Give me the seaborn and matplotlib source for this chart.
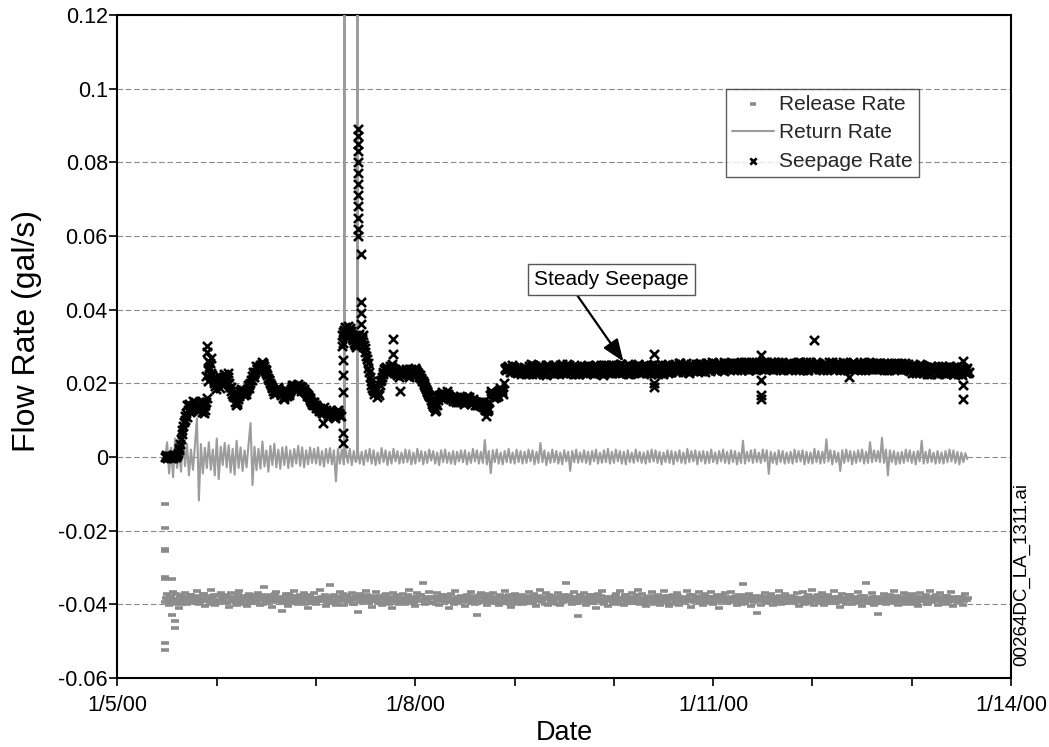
import numpy as np
import pandas as pd
import matplotlib
matplotlib.use('Agg')
import matplotlib.pyplot as plt
import matplotlib.ticker as mticker
import seaborn as sns


# ---------------------------------------------------------------------------
# Data (x axis = days after 1/5/00 00:00)
# ---------------------------------------------------------------------------

date_ticks = [0, 3, 6, 9]
date_labels = ['1/5/00', '1/8/00', '1/11/00', '1/14/00']
y_ticks = [-0.06, -0.04, -0.02, 0.0, 0.02, 0.04, 0.06, 0.08, 0.1, 0.12]
y_labels = ['-0.06', '-0.04', '-0.02', '0', '0.02', '0.04', '0.06', '0.08', '0.1', '0.12']

# seepage rate: four readings per 0.03-day step from day 0.48, in 1e-4 gal/s
# (a at +0, c at +0.0075, b at +0.015, d at +0.0225 day)
seep_start = 0.48
seep_step = 0.03
seepage_a_e4 = [
    0, 3, -2, 2, 5, 35, 85, 120, 145, 128,
    150, 125, 142, 118, 160, 255, 215, 185, 220, 195,
    222, 228, 180, 162, 145, 170, 182, 172, 195, 208,
    218, 238, 244, 256, 228, 208, 186, 178, 190, 168,
    162, 175, 178, 195, 190, 186, 190, 176, 168, 150,
    148, 136, 132, 118, 128, 112, 122, 106, 128, 110,
    345, 325, 350, 318, 298, 335, 322, 296, 255, 205,
    178, 162, 195, 225, 245, 232, 252, 238, 222, 234,
    222, 238, 218, 232, 242, 228, 212, 196, 176, 162,
    138, 128, 168, 176, 162, 172, 158, 154, 162, 148,
    158, 148, 162, 152, 142, 150, 138, 136, 124, 168,
    172, 162, 178, 182, 242, 248, 232, 244, 228, 238,
    236, 225, 247, 232, 241, 228, 250, 234, 222, 244,
    238, 249, 227, 240, 233, 252, 229, 245, 236, 224,
    243, 230, 251, 235, 226, 246, 238, 222, 249, 233,
    228, 245, 236, 253, 231, 240, 224, 248, 237, 229,
    247, 233, 241, 226, 252, 238, 230, 244, 235, 249,
    231, 246, 239, 255, 234, 242, 228, 250, 237, 245,
    252, 238, 247, 233, 256, 241, 249, 236, 253, 240,
    244, 255, 237, 250, 242, 258, 235, 248, 253, 239,
    251, 240, 256, 245, 236, 253, 247, 259, 241, 250,
    238, 254, 246, 257, 242, 250, 237, 255, 244, 252,
    249, 236, 253, 244, 258, 240, 251, 246, 235, 255,
    243, 257, 239, 250, 246, 236, 254, 241, 252, 247,
    255, 242, 249, 237, 253, 245, 240, 256, 238, 248,
    234, 246, 229, 241, 250, 232, 238, 225, 244, 236,
    240, 227, 245, 233, 238, 224, 247, 231, 242, 235,
]
seepage_c_e4 = [
    4, -1, 1, 5, 10, 48, 95, 108, 132, 140,
    138, 135, 152, 128, 205, 268, 205, 198, 205, 210,
    212, 218, 190, 170, 150, 178, 175, 178, 188, 220,
    232, 245, 250, 248, 222, 200, 180, 175, 183, 172,
    168, 180, 185, 188, 195, 192, 182, 174, 164, 145,
    140, 132, 126, 124, 120, 118, 116, 114, 120, 300,
    352, 340, 342, 325, 308, 326, 318, 285, 242, 195,
    170, 185, 205, 232, 238, 240, 245, 232, 230, 228,
    228, 232, 228, 226, 236, 218, 206, 190, 172, 156,
    135, 142, 165, 168, 170, 166, 160, 160, 150, 155,
    152, 156, 155, 148, 150, 145, 142, 130, 128, 172,
    166, 175, 180, 176, 238, 242, 240, 238, 235, 232,
    230, 242, 236, 226, 248, 233, 240, 227, 246, 238,
    247, 228, 241, 253, 230, 242, 236, 250, 229, 240,
    236, 226, 244, 240, 232, 238, 251, 229, 240, 227,
    240, 251, 229, 238, 247, 226, 243, 236, 230, 246,
    238, 244, 234, 250, 228, 246, 239, 226, 241, 230,
    240, 252, 232, 246, 241, 236, 247, 234, 252, 238,
    245, 232, 254, 240, 245, 236, 256, 243, 238, 255,
    250, 246, 242, 257, 238, 252, 244, 240, 258, 244,
    244, 252, 238, 258, 242, 246, 238, 254, 246, 236,
    245, 248, 240, 251, 236, 258, 244, 240, 250, 247,
    244, 250, 236, 251, 246, 238, 256, 241, 246, 236,
    250, 246, 244, 256, 238, 244, 258, 238, 246, 256,
    248, 236, 256, 244, 246, 238, 252, 244, 242, 252,
    240, 250, 236, 233, 246, 238, 230, 248, 237, 226,
    234, 238, 226, 246, 232, 240, 226, 244, 235, 242,
]
seepage_b_e4 = [
    -3, 1, 4, -1, 18, 62, 100, 140, 122, 152,
    135, 150, 122, 140, 235, 228, 200, 212, 188, 218,
    205, 200, 172, 150, 158, 185, 168, 185, 200, 232,
    248, 232, 258, 240, 215, 195, 172, 185, 176, 160,
    172, 168, 190, 182, 198, 180, 184, 170, 160, 140,
    142, 126, 124, 136, 118, 128, 112, 120, 116, 330,
    335, 355, 330, 310, 320, 310, 332, 275, 230, 188,
    190, 175, 210, 238, 228, 248, 240, 228, 218, 240,
    232, 226, 240, 220, 232, 222, 205, 185, 168, 150,
    132, 155, 160, 170, 178, 162, 165, 150, 155, 162,
    145, 165, 150, 158, 148, 140, 146, 128, 132, 178,
    160, 170, 186, 172, 236, 238, 250, 232, 242, 226,
    244, 236, 228, 249, 224, 245, 233, 229, 251, 235,
    226, 233, 250, 228, 247, 236, 244, 231, 226, 248,
    231, 248, 237, 227, 251, 229, 236, 250, 232, 245,
    250, 232, 246, 228, 244, 253, 234, 229, 248, 242,
    230, 251, 228, 245, 237, 226, 253, 232, 248, 236,
    250, 233, 256, 238, 248, 230, 252, 240, 233, 254,
    236, 256, 240, 252, 235, 254, 238, 258, 242, 251,
    256, 239, 254, 236, 259, 241, 252, 246, 237, 257,
    238, 257, 242, 252, 259, 240, 256, 237, 252, 243,
    253, 240, 258, 241, 254, 236, 257, 245, 259, 239,
    238, 256, 242, 255, 239, 254, 236, 258, 251, 240,
    255, 240, 253, 237, 257, 251, 240, 256, 238, 250,
    240, 254, 236, 252, 241, 256, 251, 238, 255, 236,
    247, 231, 243, 252, 228, 245, 224, 243, 230, 248,
    229, 244, 230, 241, 226, 245, 237, 222, 240, 228,
]
seepage_d_e4 = [
    -1, 2, -3, 3, 25, 72, 112, 128, 138, 142,
    128, 144, 130, 150, 245, 222, 192, 200, 205, 225,
    218, 190, 165, 140, 165, 176, 178, 195, 210, 225,
    240, 250, 252, 235, 210, 190, 182, 188, 172, 158,
    166, 174, 196, 192, 186, 190, 178, 165, 155, 150,
    132, 130, 118, 126, 112, 120, 108, 124, 112, 340,
    330, 345, 322, 305, 328, 315, 305, 265, 218, 182,
    182, 168, 218, 242, 235, 244, 236, 224, 226, 232,
    236, 222, 226, 238, 225, 215, 200, 180, 165, 145,
    125, 162, 172, 165, 168, 158, 152, 158, 160, 150,
    155, 158, 145, 152, 140, 148, 135, 134, 150, 175,
    168, 165, 182, 200, 245, 232, 245, 236, 230, 240,
    240, 229, 252, 238, 231, 244, 226, 249, 235, 228,
    233, 245, 236, 244, 226, 250, 238, 226, 245, 232,
    248, 236, 228, 246, 238, 232, 245, 235, 228, 250,
    233, 238, 252, 240, 228, 247, 230, 244, 252, 235,
    242, 228, 248, 234, 245, 232, 242, 250, 229, 244,
    236, 243, 249, 231, 254, 240, 236, 248, 242, 234,
    248, 244, 236, 257, 240, 250, 244, 233, 248, 246,
    240, 251, 246, 243, 251, 236, 245, 256, 243, 249,
    256, 245, 250, 238, 246, 257, 242, 250, 238, 256,
    242, 256, 237, 250, 247, 244, 250, 238, 248, 243,
    252, 241, 258, 238, 250, 246, 240, 252, 242, 250,
    238, 252, 246, 242, 252, 240, 248, 246, 254, 240,
    244, 250, 240, 256, 236, 250, 243, 252, 240, 246,
    228, 242, 248, 236, 240, 226, 244, 234, 242, 238,
    246, 232, 240, 228, 244, 235, 240, 236, 228, 232,
]

# seepage readings off the main band (day, gal/s)
seep_extra_day = [
    0.891, 0.901, 0.901, 0.911, 0.921, 2.07,
    2.271, 2.271, 2.271, 2.271, 2.271, 2.271,
    2.425, 2.425, 2.425, 2.425, 2.425, 2.425,
    2.425, 2.425, 2.425, 2.425, 2.425, 2.425,
    2.452, 2.452, 2.452, 2.452, 2.775, 2.775, 2.845, 3.71,
    5.40, 5.40, 5.40, 6.48, 6.48, 6.48, 6.48, 7.015, 7.37,
    8.515, 8.515, 8.515,
]
seep_extra_val = [
    0.022, 0.030, 0.0285, 0.026, 0.024, 0.0092,
    0.0309, 0.0263, 0.0223, 0.0177, 0.0064, 0.0037,
    0.089, 0.087, 0.085, 0.083, 0.080, 0.077,
    0.074, 0.071, 0.068, 0.065, 0.062, 0.060,
    0.055, 0.042, 0.039, 0.036, 0.032, 0.028, 0.018, 0.0111,
    0.028, 0.019, 0.020, 0.0277, 0.021, 0.0168, 0.0158, 0.0318, 0.0217,
    0.026, 0.0195, 0.0157,
]

# return and release rate, one reading every 0.02 day from day 0.48, in 1e-4 gal/s
flow_start = 0.48
flow_step = 0.02
return_e4 = [
    0, 40, -45, 25, -55, 50, -30, 15, -40, 60, -25, 35, -50, 20, -35,
    30, 105, -118, 35, -45, 25, -30, 40, -35, 20, -50, 50, -60, 28, -22,
    38, -28, 32, -42, 22, -48, 44, -30, 26, -38, 18, -28, 34, 92, -76,
    28, -36, 22, -32, 42, -26, 18, -40, 30, -22, 36, -28, 20, -32, 26,
    -22, 28, -30, 18, -26, 22, -18, 30, -24, 26, -28, 18, -20, 26, -16,
    22, -18, 26, -22, 16, -26, 22, -16, 24, -20, 18, -66, 22, -18, 20,
    -20, 18, -16, 22, -22, 16, -14, 20, -18, 14, -22, 18, -12, 22, -18,
    18, -22, 12, -18, 24, -14, 18, -22, 14, -18, 22, -12, 16, -18, 12,
    -16, 20, -14, 18, -20, 12, -18, 22, -12, 16, -20, 14, -16, 20, -10,
    16, -18, 12, -22, 18, -14, 20, -16, 12, -18, 16, -20, 14, -12, 18,
    -14, 18, -20, 12, -16, 22, -12, 18, -18, 14, -16, 46, -20, 16, -44,
    18, -14, 20, -18, 12, -20, 16, -14, 22, -16, 12, -18, 20, -14, 16,
    -18, 14, -16, 20, -12, 18, -20, 14, -16, 38, -14, 18, -22, 12, -16,
    20, -14, 16, -18, 12, -20, 18, -12, 14, -38, 16, -14, 20, -16, 12,
    -14, 18, -16, 14, -20, 16, -12, 20, -18, 12, -16, 18, -14, 22, -18,
    14, -16, 20, -12, 16, -18, 14, -20, 18, -14, 12, -16, 20, -12, 14,
    -16, 12, -18, 16, -14, 20, -12, 18, -16, 14, -20, 12, -14, 18, -16,
    16, -20, 14, -12, 18, -16, 12, -18, 22, -14, 16, -12, 18, -20, 14,
    -12, 16, -18, 14, -16, 20, -14, 12, -18, 16, -12, 20, -16, 14, -18,
    18, -14, 16, -20, 12, -16, 44, -18, 14, -12, 18, -16, 20, -14, 12,
    -16, 20, -12, 18, -46, 14, -16, 12, -20, 18, -14, 16, -18, 12, -16,
    14, -18, 20, -14, 16, -12, 18, -20, 14, -16, 12, -18, 22, -14, 16,
    -18, 14, -16, 48, -12, 18, -20, 16, -14, 12, -38, 18, -16, 20, -12,
    16, -20, 14, -16, 18, -12, 20, -18, 14, -16, 40, -14, 18, -12, 16,
    -14, 52, -16, 20, -50, 18, -14, 16, -20, 12, -18, 14, -16, 20, -12,
    18, -16, 14, -20, 16, -12, 44, -18, 14, -16, 20, -14, 12, -18, 16,
    -16, 12, -18, 16, -14, 20, -12, 18, -16, 14, -20, 12, -14, 10, -6,
]
release_e4 = [
    -395, -372, -402, -380, -366, -398, -385, -410, -376, -392, -368, -400, -383, -374, -396,
    -381, -364, -399, -387, -372, -405, -378, -391, -362, -388, -403, -375, -394, -370, -386,
    -397, -379, -408, -368, -390, -382, -401, -365, -393, -377, -389, -404, -371, -396, -384,
    -376, -393, -369, -401, -385, -352, -397, -374, -388, -407, -380, -366, -395, -383, -419,
    -389, -371, -404, -378, -396, -363, -386, -400, -375, -391, -368, -383, -409, -377, -394,
    -370, -398, -384, -362, -392, -379, -405, -388, -348, -396, -374, -401, -381, -367, -390,
    -402, -377, -393, -385, -369, -399, -381, -421, -373, -387, -395, -364, -392, -380, -406,
    -384, -366, -397, -378, -403, -386, -371, -394, -382, -409, -368, -391, -376, -400, -387,
    -373, -399, -388, -362, -395, -381, -404, -370, -389, -376, -343, -398, -385, -367, -393,
    -396, -380, -369, -402, -387, -375, -394, -383, -410, -372, -390, -365, -397, -384, -378,
    -388, -404, -374, -392, -367, -385, -399, -428, -381, -370, -395, -386, -403, -376, -391,
    -369, -393, -385, -401, -378, -396, -364, -389, -375, -407, -382, -371, -398, -387, -376,
    -400, -379, -391, -366, -395, -383, -372, -405, -388, -361, -394, -380, -369, -402, -386,
    -377, -397, -384, -370, -403, -389, -376, -342, -392, -381, -399, -366, -387, -432, -374,
    -393, -368, -401, -386, -375, -396, -382, -409, -371, -390, -364, -398, -379, -404, -388,
    -382, -400, -373, -391, -365, -387, -402, -376, -394, -383, -370, -397, -385, -362, -399,
    -371, -389, -404, -380, -393, -367, -398, -384, -375, -401, -388, -363, -392, -378, -405,
    -398, -376, -386, -369, -402, -391, -380, -395, -364, -387, -406, -374, -389, -381, -367,
    -385, -403, -372, -394, -381, -366, -399, -388, -375, -410, -383, -392, -370, -397, -379,
    -366, -392, -384, -401, -374, -389, -346, -396, -382, -371, -404, -387, -377, -424, -391,
    -401, -380, -368, -395, -386, -373, -402, -379, -390, -364, -398, -385, -372, -393, -387,
    -378, -396, -388, -370, -405, -382, -367, -399, -384, -376, -393, -362, -401, -389, -374,
    -392, -369, -403, -381, -376, -397, -387, -365, -394, -380, -408, -372, -386, -399, -383,
    -375, -399, -382, -393, -367, -388, -404, -377, -342, -396, -385, -370, -402, -381, -427,
    -397, -383, -371, -400, -389, -376, -394, -365, -387, -403, -379, -392, -368, -398, -384,
    -386, -372, -398, -381, -405, -369, -391, -384, -376, -400, -363, -395, -388, -374, -402,
    -370, -394, -385, -399, -377, -390, -366, -404, -382, -393, -379, -387, -401, -373, -389,
]
# second release reading in each step, taken 0.01 day later, in 1e-4 gal/s
release_b_e4 = [
    -384, -391, -377, -396, -388, -373, -393, -380, -398, -386, -379, -390, -375, -395, -382,
    -389, -378, -394, -383, -371, -392, -386, -399, -381, -374, -395, -387, -377, -392, -380,
    -376, -393, -384, -390, -379, -397, -372, -388, -382, -400, -385, -378, -394, -381, -389,
    -392, -380, -387, -375, -398, -383, -390, -378, -395, -384, -373, -391, -386, -379, -396,
    -381, -397, -373, -389, -384, -392, -378, -395, -386, -380, -399, -376, -388, -393, -383,
    -394, -383, -390, -379, -386, -374, -397, -382, -391, -377, -388, -395, -380, -386, -373,
    -387, -375, -392, -381, -398, -388, -377, -384, -393, -380, -389, -376, -396, -385, -391,
    -378, -392, -385, -396, -382, -375, -389, -399, -380, -387, -394, -383, -377, -390, -384,
    -391, -384, -376, -393, -387, -396, -381, -389, -374, -392, -385, -380, -397, -383, -379,
    -383, -398, -388, -380, -375, -391, -386, -377, -394, -382, -398, -387, -379, -392, -385,
    -395, -379, -387, -383, -397, -378, -390, -384, -376, -393, -381, -388, -373, -396, -382,
    -380, -389, -395, -376, -386, -382, -393, -379, -398, -384, -390, -377, -392, -381, -394,
    -386, -393, -378, -390, -381, -396, -385, -391, -377, -388, -383, -399, -385, -376, -392,
    -392, -381, -398, -385, -378, -394, -382, -388, -375, -391, -387, -380, -396, -384, -389,
    -379, -390, -384, -396, -388, -374, -393, -381, -389, -378, -397, -386, -392, -380, -385,
    -393, -377, -389, -382, -399, -383, -376, -392, -385, -397, -379, -388, -374, -391, -384,
    -385, -396, -380, -392, -377, -389, -384, -395, -381, -387, -393, -378, -386, -398, -382,
    -388, -383, -395, -378, -391, -385, -397, -382, -390, -376, -386, -393, -380, -389, -396,
    -377, -392, -386, -381, -397, -379, -390, -384, -395, -382, -374, -388, -393, -383, -390,
    -394, -385, -378, -393, -382, -398, -387, -376, -391, -386, -380, -395, -384, -389, -377,
    -383, -390, -396, -381, -388, -392, -379, -394, -385, -378, -391, -383, -397, -380, -388,
    -391, -379, -385, -394, -382, -389, -396, -381, -388, -393, -377, -386, -392, -384, -395,
    -380, -395, -388, -377, -392, -384, -381, -397, -386, -379, -390, -394, -383, -389, -376,
    -389, -384, -393, -380, -396, -378, -391, -386, -393, -382, -388, -379, -395, -385, -391,
    -384, -392, -379, -389, -383, -397, -381, -390, -378, -394, -385, -387, -392, -376, -393,
    -393, -381, -387, -396, -379, -385, -392, -383, -398, -380, -389, -384, -377, -391, -386,
    -381, -390, -384, -377, -394, -386, -380, -392, -387, -383, -396, -379, -390, -385, -382,
]

# the two return surges that run off the top of the chart (day, gal/s)
return_spike_day = [2.284, 2.286, 2.288, 2.415, 2.417, 2.419]
return_spike_val = [0.0, 0.25, 0.0, 0.0, 0.25, 0.0]

# first release readings while the flow settled (day, gal/s)
release_extra_day = [0.48, 0.48, 0.48, 0.48, 0.48, 0.48, 0.48, 0.48,
                     0.549, 0.549, 0.58, 0.58]
release_extra_val = [-0.0128, -0.0193, -0.0250, -0.0256, -0.0325, -0.0331,
                     -0.0506, -0.0524, -0.0331, -0.0428, -0.0446, -0.0463]


# ---------------------------------------------------------------------------
# Tables
# ---------------------------------------------------------------------------

seep_day = seep_start + seep_step * np.arange(len(seepage_a_e4))
flow_day = flow_start + flow_step * np.arange(len(return_e4))

seep_df = pd.DataFrame({
    'day': np.concatenate([seep_day, seep_day + 0.0075, seep_day + 0.015,
                           seep_day + 0.0225, seep_extra_day]),
    'rate': np.concatenate([np.array(seepage_a_e4) * 1e-4, np.array(seepage_c_e4) * 1e-4,
                            np.array(seepage_b_e4) * 1e-4, np.array(seepage_d_e4) * 1e-4,
                            seep_extra_val]),
})
return_df = pd.DataFrame({
    'day': np.concatenate([flow_day, return_spike_day]),
    'rate': np.concatenate([np.array(return_e4) * 1e-4, return_spike_val]),
}).sort_values('day')
release_df = pd.DataFrame({
    'day': np.concatenate([flow_day, flow_day + 0.01, release_extra_day]),
    'rate': np.concatenate([np.array(release_e4) * 1e-4, np.array(release_b_e4) * 1e-4,
                            release_extra_val]),
})


# ---------------------------------------------------------------------------
# Plot
# ---------------------------------------------------------------------------

sns.set_theme(style='white')
plt.rcParams['font.family'] = ['Liberation Sans', 'DejaVu Sans']

fig = plt.figure(figsize=(10.49, 7.47), dpi=100)
ax = fig.add_axes([0.112, 0.0924, 0.8518, 0.8876])

sns.scatterplot(data=release_df, x='day', y='rate', marker='_', s=36,
                color='#8c8c8c', linewidth=2.6, label='Release Rate', ax=ax, zorder=3)
sns.lineplot(data=return_df, x='day', y='rate', estimator=None, sort=False,
             color='#9c9c9c', linewidth=1.5, label='Return Rate', ax=ax, zorder=3)
sns.scatterplot(data=seep_df, x='day', y='rate', marker='x', s=42,
                color='black', linewidth=1.9, label='Seepage Rate', ax=ax, zorder=4)

ax.set_xlim(0, 9)
ax.set_ylim(-0.06, 0.12)
ax.set_xticks(date_ticks)
ax.set_xticklabels(date_labels)
ax.xaxis.set_minor_locator(mticker.MultipleLocator(1))
ax.set_yticks(y_ticks)
ax.set_yticklabels(y_labels)

ax.yaxis.grid(True, color='#8a8a8a', linestyle=(0, (5, 2.5)), linewidth=0.8)
ax.xaxis.grid(False)
ax.set_axisbelow(True)

for side in ['left', 'right', 'top', 'bottom']:
    ax.spines[side].set_color('black')
    ax.spines[side].set_linewidth(1.5)

ax.tick_params(axis='both', which='both', direction='out', length=6, width=1.2,
               color='black', bottom=True, left=True, labelsize=15.5, labelcolor='black')
ax.tick_params(axis='x', pad=6)
ax.tick_params(axis='y', pad=1)

ax.set_xlabel('Date', fontsize=19.5, color='black', labelpad=3)
ax.set_ylabel('Flow Rate (gal/s)', fontsize=23, color='black')
ax.yaxis.set_label_coords(-0.084, 0.523)

handles, labels = ax.get_legend_handles_labels()
leg = ax.legend(handles, labels, loc='upper left', bbox_to_anchor=(0.681, 0.889),
                borderaxespad=0, fontsize=15, frameon=True, fancybox=False,
                handlelength=2.0, handletextpad=0.25, borderpad=0.3, labelspacing=0.45,
                markerscale=0.7)
leg.get_frame().set_edgecolor('#333333')
leg.get_frame().set_linewidth(1.0)

ax.annotate('Steady Seepage', xy=(5.096, 0.0259), xytext=(4.975, 0.0482),
            ha='center', va='center', fontsize=15, color='black',
            bbox=dict(boxstyle='square,pad=0.3', fc='white', ec='#555555', lw=1.0),
            arrowprops=dict(arrowstyle='-|>,head_length=0.9,head_width=0.35',
                            color='black', lw=1.6, relpos=(0.25, 0),
                            shrinkA=0, shrinkB=0),
            zorder=6)

fig.text(1022 / 1049, 1 - 574 / 747, '00264DC_LA_1311.ai', rotation=90,
         ha='center', va='center', fontsize=13.5, color='black')

fig.savefig('out.png', dpi=100)
